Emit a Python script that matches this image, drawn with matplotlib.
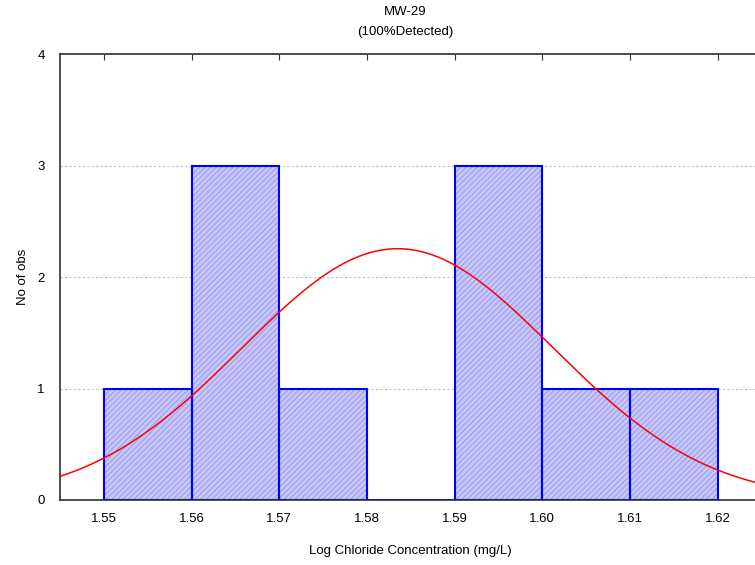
import numpy as np
import matplotlib
matplotlib.use("Agg")
import matplotlib.pyplot as plt

plt.rcParams['font.family'] = ['Liberation Sans', 'DejaVu Sans']

# histogram data
bin_left = [1.55, 1.56, 1.57, 1.58, 1.59, 1.60, 1.61]
counts = [1, 3, 1, 0, 3, 1, 1]
bin_width = 0.01
# fitted normal curve parameters
fit_mean = 1.5835
fit_sd = 0.0177
n_obs = sum(counts)

xticks = [1.55, 1.56, 1.57, 1.58, 1.59, 1.60, 1.61, 1.62]
xticklabels = ['1.55', '1.56', '1.57', '1.58', '1.59', '1.60', '1.61', '1.62']
yticks = [0, 1, 2, 3, 4]

fig = plt.figure(figsize=(7.55, 5.65), dpi=100)
W, H = 755.0, 565.0
ax = fig.add_axes([60 / W, 65 / H, 701.6 / W, 446 / H])

ax.set_xlim(1.545, 1.625)
ax.set_ylim(0, 4)

# grid
for yv in [1, 2, 3]:
    ax.axhline(yv, color='#c0c0c0', lw=0.8, ls=(0, (2, 2)), zorder=0)

# bars: hatched fill then blue outline
ax.bar(bin_left, counts, width=bin_width, align='edge', color='#c8c8fb',
       edgecolor='#a4a4f0', hatch='//////', linewidth=0, zorder=1)
ax.bar(bin_left, counts, width=bin_width, align='edge', fill=False,
       edgecolor='#0000ff', linewidth=1.5, zorder=2)

# normal curve
xs = np.linspace(1.545, 1.625, 400)
ys = n_obs * bin_width / (fit_sd * np.sqrt(2 * np.pi)) * np.exp(-0.5 * ((xs - fit_mean) / fit_sd) ** 2)
ax.plot(xs, ys, color='#ff0000', lw=1.1, zorder=3)

ax.set_xticks(xticks)
ax.set_xticklabels(xticklabels)
ax.set_yticks(yticks)
ax.tick_params(axis='x', direction='in', length=4, top=True, labelsize=9.5, pad=9, color='#303030')
ax.tick_params(axis='y', length=0, labelsize=9.5, pad=11)
for s in ax.spines.values():
    s.set_linewidth(1.2)
    s.set_color('#303030')
ax.spines['bottom'].set_zorder(4)

ax.set_xlabel('Log Chloride Concentration (mg/L)', fontsize=9.5, labelpad=15)
ax.set_ylabel('No of obs', fontsize=9.5, labelpad=6)
fig.text(405 / W, 1 - 12 / H, 'MW-29', ha='center', va='center', fontsize=9.5)
fig.text(405 / W, 1 - 32 / H, '(100%Detected)', ha='center', va='center', fontsize=9.5)

fig.savefig('out.png', dpi=100)
